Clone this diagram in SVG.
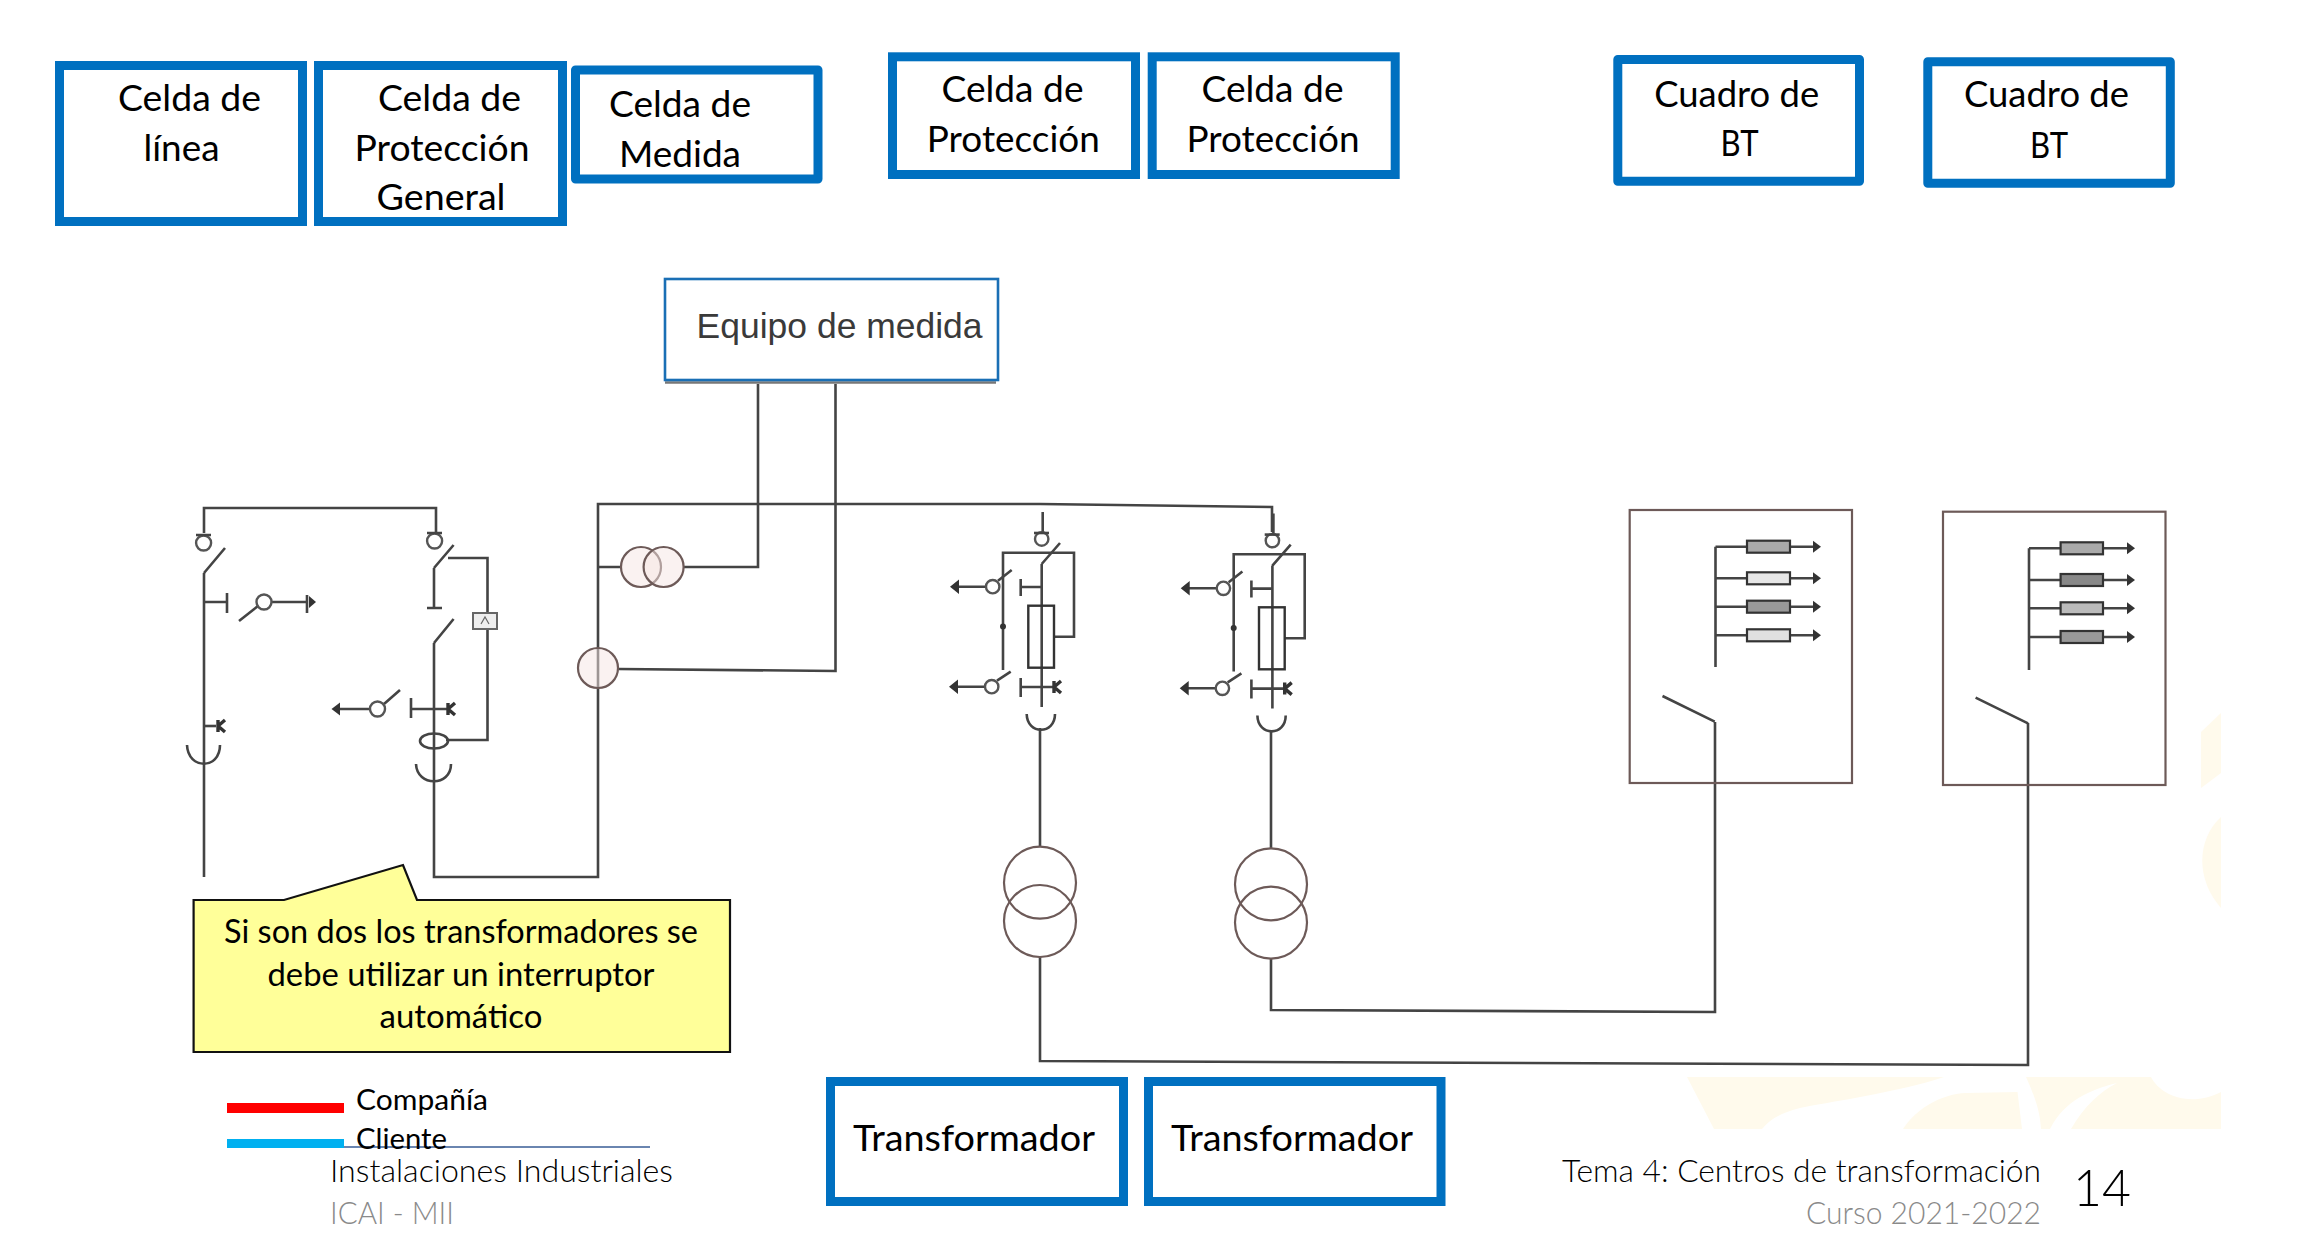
<svg xmlns="http://www.w3.org/2000/svg" xmlns:xlink="http://www.w3.org/1999/xlink" width="2316" height="1239" viewBox="0 0 2316 1239">
<style>
.box{fill:#fff;stroke:#0070c0;stroke-width:9;stroke-linejoin:miter}
.boxr{fill:#fff;stroke:#0070c0;stroke-width:9;stroke-linejoin:round}
.t{font-family:Lato,"Liberation Sans",sans-serif;font-size:37px;fill:#000;text-anchor:middle}
.c{font-family:Lato,"Liberation Sans",sans-serif;font-size:32px;fill:#000;text-anchor:middle}
.f{font-family:Lato,"Liberation Sans",sans-serif;font-size:32px;font-weight:300}
.g{fill:#8a8a8a}
.w{fill:none;stroke:#444;stroke-width:2.6;stroke-linecap:butt}
.o{fill:#fff;stroke:#555;stroke-width:2.4}
.tc{fill:none;stroke:#6d5a58;stroke-width:2.2}
.ctf{fill:#f5e6e4;fill-opacity:.5;stroke:#6d5a58;stroke-width:2.2}
.fuse{stroke:#333;stroke-width:2.2}
.wm{fill:#fffaec}
.ah{fill:#333}
</style>
<defs>
<g id="kmark"><path d="M0 -6V6M0 0L7 -6M0 0L7 6" fill="none" stroke="#333" stroke-width="3.4"/></g>
<g id="protCell">
<path class="w" d="M1042.7 512V532M1041.7 564L1060 543M1041.7 564V707"/>
<circle class="o" cx="1041.7" cy="539" r="6.7"/>
<path class="w" d="M1034 533H1049"/>
<path class="w" d="M1003 670V552.7H1074V636.7H1054"/>
<circle cx="1003" cy="626.5" r="3" fill="#333"/>
<path class="w" d="M997 680.7L1010.7 671.7M998 580.7L1011.7 570"/>
<path class="w" d="M1020.7 579V596M1020.7 587H1041.7M1020.7 678V697M1020.7 687H1053"/>
<use xlink:href="#kmark" href="#kmark" x="1054" y="687"/>
<rect x="1028.3" y="605.7" width="25.7" height="62" fill="none" stroke="#333" stroke-width="2.4"/>
<path class="w" d="M957 586.7H986M957 686.7H985"/>
<path class="ah" d="M950 586.7L959 579.5V593.9ZM949 686.7L958 679.5V693.9Z"/>
<circle class="o" cx="992.7" cy="586.7" r="6.7"/>
<circle class="o" cx="991.7" cy="686.7" r="6.7"/>
<path class="w" d="M1026.7 714C1027 735 1055 735 1055 714"/>
</g>
<g id="trafo">
<circle class="tc" cx="1040" cy="882.7" r="36"/>
<circle class="tc" cx="1040" cy="921" r="36"/>
</g>
<g id="feeders">
<path class="w" d="M0 0H26M43 0H68"/>
<path class="ah" d="M67 -6L75 0L67 6Z"/>
</g>
</defs>
<g id="watermark">
<path class="wm" d="M1687 1077H1944C1900 1092 1823 1103 1800 1108C1780 1113 1769 1120 1762 1129H1714Z"/>
<path class="wm" d="M1903 1129C1915 1110 1940 1094 1966 1093L2017.5 1092L2022 1129Z"/>
<path class="wm" d="M2026 1077H2151C2160 1095 2190 1108 2221 1092V1129H2071C2085 1105 2100 1092 2117 1083C2090 1090 2065 1100 2050 1129H2041C2040 1110 2034 1095 2026 1077Z"/>
<path class="wm" d="M2221 713V773L2201 788V732Z"/>
<path class="wm" d="M2221 817C2196 840 2196 880 2221 908Z"/>
</g>
<g id="connectors">
<path class="w" d="M204 533V508H436V533"/>
<path class="w" d="M204 573V877M434 643V877H598V504H1040L1272 507V532"/>
<path class="w" d="M448 558H487.5V740H446"/>
<path class="w" d="M598 567H621M684 567H758V384"/>
<path class="w" d="M618.5 669L835.5 671V384"/>
<path class="w" d="M1040 728V846.7M1271 730V849"/>
<path class="w" d="M1040 957V1061L2028 1065V723"/>
<path class="w" d="M1271 959V1010L1715 1012V722"/>
</g>
<g id="celda-linea"><rect class="box" x="59.5" y="65.5" width="243" height="156"/>
<text class="t" x="189.5" y="111" textLength="143" lengthAdjust="spacingAndGlyphs">Celda de</text>
<text class="t" x="181.5" y="161" textLength="76" lengthAdjust="spacingAndGlyphs">línea</text></g>
<g id="celda-proteccion-general"><rect class="box" x="318.5" y="65.5" width="244" height="156"/>
<text class="t" x="449.5" y="111" textLength="143" lengthAdjust="spacingAndGlyphs">Celda de</text>
<text class="t" x="442" y="161" textLength="175" lengthAdjust="spacingAndGlyphs">Protección</text>
<text class="t" x="441" y="210" textLength="129" lengthAdjust="spacingAndGlyphs">General</text></g>
<g id="celda-medida"><rect class="boxr" x="575.5" y="70" width="242.5" height="109"/>
<text class="t" x="680" y="117" textLength="142" lengthAdjust="spacingAndGlyphs">Celda de</text>
<text class="t" x="680" y="167" textLength="122" lengthAdjust="spacingAndGlyphs">Medida</text></g>
<g id="celda-proteccion-1"><rect class="box" x="892.5" y="56.8" width="243" height="117.7"/>
<text class="t" x="1012.5" y="101.7" textLength="142" lengthAdjust="spacingAndGlyphs">Celda de</text>
<text class="t" x="1013.3" y="151.7" textLength="173" lengthAdjust="spacingAndGlyphs">Protección</text></g>
<g id="celda-proteccion-2"><rect class="box" x="1152.2" y="56.8" width="243" height="117.7"/>
<text class="t" x="1272.5" y="101.7" textLength="142" lengthAdjust="spacingAndGlyphs">Celda de</text>
<text class="t" x="1273" y="151.7" textLength="173" lengthAdjust="spacingAndGlyphs">Protección</text></g>
<g id="cuadro-bt-1"><rect class="boxr" x="1617.8" y="59.5" width="241.7" height="121.7"/>
<text class="t" x="1736.7" y="106.7" textLength="165" lengthAdjust="spacingAndGlyphs">Cuadro de</text>
<text class="t" x="1739.5" y="156" textLength="38" lengthAdjust="spacingAndGlyphs">BT</text></g>
<g id="cuadro-bt-2"><rect class="boxr" x="1927.8" y="61.8" width="242.5" height="121.4"/>
<text class="t" x="2046.5" y="106.7" textLength="165" lengthAdjust="spacingAndGlyphs">Cuadro de</text>
<text class="t" x="2049" y="157.7" textLength="38" lengthAdjust="spacingAndGlyphs">BT</text></g>
<g id="equipo-medida">
<path d="M665 382.5H996" stroke="#777" stroke-width="2.5"/>
<rect x="665" y="279" width="333" height="101" fill="#fff" stroke="#1a6fb5" stroke-width="2.6"/>
<text x="696.6" y="338" font-family="Liberation Sans, Arial, sans-serif" font-size="35.4px" fill="#3a3a3a" textLength="286" lengthAdjust="spacingAndGlyphs">Equipo de medida</text>
</g>
<g id="seccionador-linea">
<circle class="o" cx="203.6" cy="543" r="7.5"/>
<path class="w" d="M196 535H211M204 573L225 548"/>
<path class="w" d="M204 602H227M227 593V613M239 621L258 606M271 602H307M307 595V613"/>
<path class="ah" d="M309 596L316 602L309 608Z"/>
<circle class="o" cx="264" cy="602" r="7.5"/>
<path class="w" d="M204 726H216"/>
<use xlink:href="#kmark" href="#kmark" x="218" y="726"/>
<path class="w" d="M187 745C188 770 220 770 220 745"/>
</g>
<g id="proteccion-general">
<circle class="o" cx="434.6" cy="541" r="7.5"/>
<path class="w" d="M427 533H442M434 568L453.6 545M434 568V607M427 608H442M434 643L453.6 619"/>
<path class="w" d="M339 709H370M384 704L400 690M411 698V718M411 709H447"/>
<path class="ah" d="M331.5 709L340 702.5V715.5Z"/>
<circle class="o" cx="377.5" cy="709" r="7.5"/>
<use xlink:href="#kmark" href="#kmark" x="448" y="709"/>
<ellipse cx="434" cy="741" rx="14" ry="7.5" fill="none" stroke="#444" stroke-width="2.6"/>
<rect x="473" y="613" width="24" height="16" fill="#eee" stroke="#666" stroke-width="2"/>
<path d="M481 624L485 617L489 624" fill="none" stroke="#666" stroke-width="1.2"/>
<path class="w" d="M416 764C417 787 451 787 451 764"/>
</g>
<g id="transformador-tension">
<circle class="ctf" cx="641" cy="567" r="20"/>
<circle class="ctf" cx="663.6" cy="567" r="20"/>
</g>
<g id="transformador-intensidad">
<circle class="ctf" cx="598" cy="668" r="20"/>
</g>
<g id="proteccion-1"><use xlink:href="#protCell" href="#protCell"/><use xlink:href="#trafo" href="#trafo"/></g>
<g id="proteccion-2"><use xlink:href="#protCell" href="#protCell" x="230.7" y="1.6"/><use xlink:href="#trafo" href="#trafo" x="231" y="1.6"/></g>
<g id="cuadro-esquema-1">
<rect class="tc" x="1629.7" y="510" width="222.3" height="273"/>
<path class="w" d="M1715.5 546.7V667M1715.5 546.7H1747M1715.5 578.3H1747M1715.5 606.7H1747M1715.5 635.3H1747M1662.5 696L1714.7 721.7"/>
<use xlink:href="#feeders" href="#feeders" x="1746" y="546.7"/><use xlink:href="#feeders" href="#feeders" x="1746" y="578.3"/><use xlink:href="#feeders" href="#feeders" x="1746" y="606.7"/><use xlink:href="#feeders" href="#feeders" x="1746" y="635.3"/>
<rect class="fuse" x="1747" y="540.7" width="43" height="12" fill="#aaa"/>
<rect class="fuse" x="1747" y="572.3" width="43" height="12" fill="#e6e6e6"/>
<rect class="fuse" x="1747" y="600.7" width="43" height="12" fill="#999"/>
<rect class="fuse" x="1747" y="629.3" width="43" height="12" fill="#e0e0e0"/>
</g>
<g id="cuadro-esquema-2">
<rect class="tc" x="1943" y="511.7" width="222.5" height="273.3"/>
<path class="w" d="M2029 548.3V670M2029 548.3H2061M2029 580H2061M2029 608.3H2061M2029 637H2061M1975.6 697.7L2028 723.3"/>
<use xlink:href="#feeders" href="#feeders" x="2060" y="548.3"/><use xlink:href="#feeders" href="#feeders" x="2060" y="580"/><use xlink:href="#feeders" href="#feeders" x="2060" y="608.3"/><use xlink:href="#feeders" href="#feeders" x="2060" y="637"/>
<rect class="fuse" x="2060.6" y="542.3" width="42.4" height="12" fill="#aaa"/>
<rect class="fuse" x="2060.6" y="574" width="42.4" height="12" fill="#888"/>
<rect class="fuse" x="2060.6" y="602.3" width="42.4" height="12" fill="#bbb"/>
<rect class="fuse" x="2060.6" y="631" width="42.4" height="12" fill="#999"/>
</g>
<g id="nota">
<path d="M193.6 900H284L403 865L417 900H730V1052H193.6Z" fill="#ffff99" stroke="#111" stroke-width="2.2"/>
<text class="c" x="461" y="943" textLength="474" lengthAdjust="spacingAndGlyphs">Si son dos los transformadores se</text>
<text class="c" x="461" y="986" textLength="387" lengthAdjust="spacingAndGlyphs">debe utilizar un interruptor</text>
<text class="c" x="461" y="1028" textLength="163" lengthAdjust="spacingAndGlyphs">automático</text>
</g>
<g id="transformador-1"><rect class="box" x="830.5" y="1081.5" width="293" height="120"/>
<text class="t" x="974" y="1151" textLength="242" lengthAdjust="spacingAndGlyphs">Transformador</text></g>
<g id="transformador-2"><rect class="box" x="1148.5" y="1081.5" width="292.5" height="120"/>
<text class="t" x="1292" y="1151" textLength="242" lengthAdjust="spacingAndGlyphs">Transformador</text></g>
<g id="leyenda">
<rect x="227" y="1103" width="117" height="10" fill="#ff0000"/>
<rect x="227" y="1139" width="117" height="9" fill="#00b0f0"/>
<path d="M344 1147H650" stroke="#6a85b0" stroke-width="2"/>
<text x="356" y="1110" font-family="Lato,Liberation Sans,sans-serif" font-size="29px" textLength="132" lengthAdjust="spacingAndGlyphs">Compañía</text>
<text x="356" y="1149" font-family="Lato,Liberation Sans,sans-serif" font-size="29px" textLength="91" lengthAdjust="spacingAndGlyphs">Cliente</text>
</g>
<g id="pie">
<text class="f" x="330" y="1182" textLength="343" lengthAdjust="spacingAndGlyphs">Instalaciones Industriales</text>
<text class="f g" x="330" y="1224" textLength="124" lengthAdjust="spacingAndGlyphs">ICAI - MII</text>
<text class="f" x="1562" y="1182" textLength="479" lengthAdjust="spacingAndGlyphs">Tema 4: Centros de transformación</text>
<text class="f g" x="1806" y="1224" textLength="235" lengthAdjust="spacingAndGlyphs">Curso 2021-2022</text>
<text class="f" x="2073" y="1206" style="font-size:52px" textLength="58" lengthAdjust="spacingAndGlyphs">14</text>
</g>
</svg>
